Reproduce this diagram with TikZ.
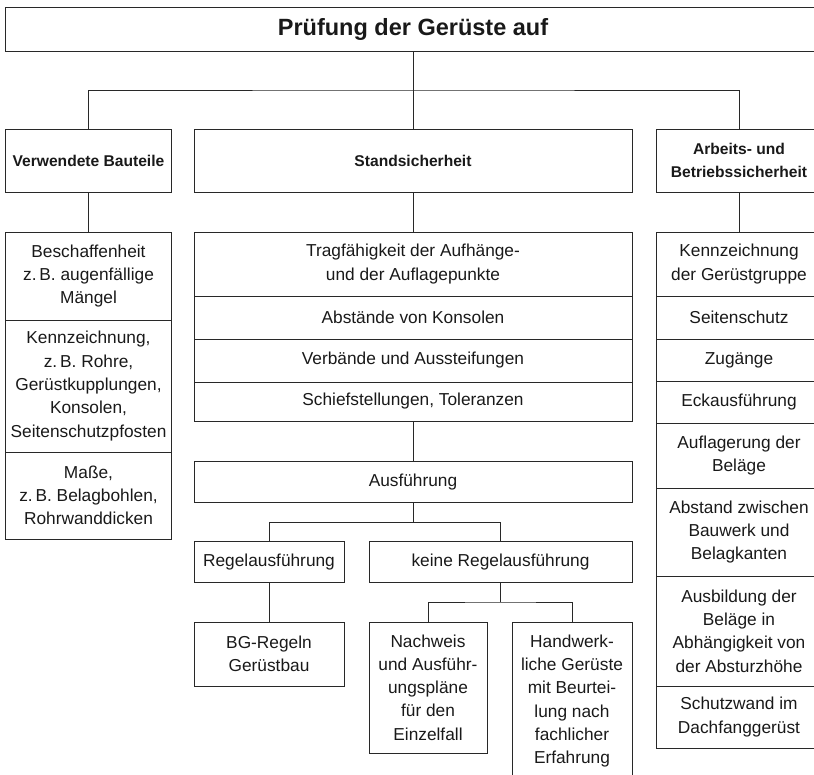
\documentclass[tikz,border=0pt]{standalone}
\usepackage{fontspec}
\setmainfont{Liberation Sans}
\usetikzlibrary{positioning}
\definecolor{rule}{RGB}{40,40,40}
\definecolor{ink}{RGB}{25,25,25}

\begin{document}
\begin{tikzpicture}[x=1pt, y=-1pt, node distance=0pt]
\tikzstyle{box} = [rectangle, draw=rule, line width=1pt, text=ink, align=center,
    inner sep=2pt, outer sep=0pt, font=\fontsize{17.3}{23.3}\selectfont]
\tikzstyle{head} = [box, minimum height=63.5pt, font=\fontsize{15.6}{23.3}\selectfont\bfseries]
\tikzstyle{line} = [draw=rule, line width=1pt]
    \useasboundingbox (0,0) rectangle (814,774);
    \clip (0,0) rectangle (814,774);

    % Place nodes
    \node [box, minimum width=815pt, minimum height=44pt,
        font=\fontsize{23.5}{28}\selectfont\bfseries] (title) at (413,29.5) {Prüfung der Gerüste auf};
    \node [head, minimum width=438pt, below=77.5pt of title] (stand) {Standsicherheit};
    \node [head, minimum width=166pt, left=22.5pt of stand] (verw) {Verwendete Bauteile};
    \node [head, minimum width=166pt, right=24pt of stand] (arbeit) {Arbeits- und\\Betriebssicherheit};

    % left column
    \node [box, minimum width=166pt, minimum height=88pt, below=39.5pt of verw] (beschaff) {Beschaffenheit\\z.\,B. augenfällige\\Mängel};
    \node [box, minimum width=166pt, minimum height=132pt, below=of beschaff] (kennz) {Kennzeichnung,\\z.\,B. Rohre,\\Gerüstkupplungen,\\Konsolen,\\Seitenschutzpfosten};
    \node [box, minimum width=166pt, minimum height=87pt, below=of kennz] (masse) {Maße,\\z.\,B. Belagbohlen,\\Rohrwanddicken};

    % middle column
    \node [box, minimum width=438pt, minimum height=64pt, below=39.5pt of stand] (tragf) {Tragfähigkeit der Aufhänge-\\und der Auflagepunkte};
    \node [box, minimum width=438pt, minimum height=43pt, below=of tragf] (abst) {Abstände von Konsolen};
    \node [box, minimum width=438pt, minimum height=43pt, below=of abst] (verb) {Verbände und Aussteifungen};
    \node [box, minimum width=438pt, minimum height=39pt, below=of verb] (schief) {Schiefstellungen, Toleranzen};
    \node [box, minimum width=438pt, minimum height=40.3pt, below=40.7pt of schief] (ausf) {Ausführung};
    \node [box, minimum width=150pt, minimum height=40.3pt, below right=39.7pt and 0pt of ausf.south west] (regel) {Regelausführung};
    \node [box, minimum width=263pt, minimum height=40.3pt, right=25pt of regel] (keine) {keine Regelausführung};
    \node [box, minimum width=150pt, minimum height=64pt, below=40pt of regel] (bg) {BG-Regeln\\Gerüstbau};
    \node [box, minimum width=118pt, minimum height=131pt, below right=40pt and 0pt of keine.south west] (nachw) {Nachweis\\und Ausführ-\\ungspläne\\für den\\Einzelfall};
    \node [box, minimum width=120pt, minimum height=158pt, below left=40pt and 0pt of keine.south east] (handw) {Handwerk-\\liche Gerüste\\mit Beurtei-\\lung nach\\fachlicher\\Erfahrung};

    % right column
    \node [box, minimum width=166pt, minimum height=64pt, below=39.5pt of arbeit] (kgr) {Kennzeichnung\\der Gerüstgruppe};
    \node [box, minimum width=166pt, minimum height=43pt, below=of kgr] (seit) {Seitenschutz};
    \node [box, minimum width=166pt, minimum height=42pt, below=of seit] (zug) {Zugänge};
    \node [box, minimum width=166pt, minimum height=42pt, below=of zug] (eck) {Eckausführung};
    \node [box, minimum width=166pt, minimum height=65pt, below=of eck] (aufl) {Auflagerung der\\Beläge};
    \node [box, minimum width=166pt, minimum height=88pt, below=of aufl] (kant) {Abstand zwischen\\Bauwerk und\\Belagkanten};
    \node [box, minimum width=166pt, minimum height=110pt, below=of kant] (ausb) {Ausbildung der\\Beläge in\\Abhängigkeit von\\der Absturzhöhe};
    \node [box, minimum width=166pt, minimum height=62pt, below=of ausb] (schutz) {Schutzwand im\\Dachfanggerüst};

%paths
    \path [line] (title.south) -- ++(0,38.5) coordinate (bus);
    \path [line] (verw.north) |- (bus) -| (arbeit.north);
    \path [line] (bus) -- (stand.north);
    \path [line] (verw.south) -- (beschaff.north);
    \path [line] (stand.south) -- (tragf.north);
    \path [line] (arbeit.south) -- (kgr.north);
    \path [line] (schief.south) -- (ausf.north);
    \path [line] (ausf.south) -- ++(0,20.7) coordinate (fork);
    \path [line] (regel.north) |- (fork) -| (keine.north);
    \path [line] (regel.south) -- (bg.north);
    \path [line] (keine.south) -- ++(0,20) coordinate (subfork);
    \path [line] (nachw.north) |- (subfork) -| (handw.north);

\end{tikzpicture}
\end{document}
